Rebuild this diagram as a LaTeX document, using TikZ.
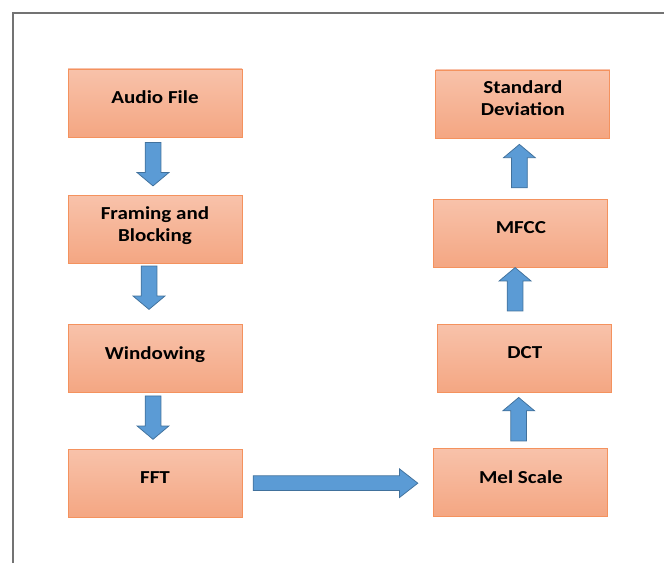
\documentclass[tikz,border=0pt]{standalone}
\usepackage{fontspec}
\usepackage{tikz}
\usetikzlibrary{positioning}
\usetikzlibrary{calc}
\usetikzlibrary{shapes.arrows}

\newfontfamily\boxfont[FakeStretch=1.15]{Carlito}

\definecolor{boxtop}{RGB}{248,194,170}
\definecolor{boxbottom}{RGB}{244,166,130}
\definecolor{boxline}{RGB}{244,146,94}
\definecolor{arrowfill}{RGB}{91,155,213}
\definecolor{arrowline}{RGB}{65,113,156}

\tikzset{
  stage/.style={rectangle, draw=boxline, line width=0.9pt, top color=boxtop, bottom color=boxbottom,
    minimum width=174pt, minimum height=68pt, inner sep=0pt, text depth=12pt, align=center,
    font=\boxfont\bfseries\fontsize{18.3}{22.4}\selectfont},
  blockarrow/.style={single arrow, draw=arrowline, fill=arrowfill, line width=0.75pt,
    inner xsep=0pt, inner ysep=7.5pt, minimum height=43.4pt, minimum width=31pt,
    single arrow head extend=8pt, single arrow tip angle=100, anchor=tail},
  frame/.style={draw=black!55, line width=2pt}
}

\begin{document}
\begin{tikzpicture}[x=1pt, y=1pt, node distance=58pt]
        \useasboundingbox (0,0) rectangle (664,563);
        \draw[frame] (12.5,0) |- (664,550);

        % left column
        \node[stage] (audio) at (155,460) {Audio File};
        \node[stage, below=of audio] (framing) {Framing and\\Blocking};
        \node[stage, below=60pt of framing] (windowing) {Windowing};
        \node[stage, below=56pt of windowing] (fft) {FFT};

        % right column
        \node[stage, right=191pt of fft, yshift=1pt] (mel) {Mel Scale};
        \node[stage, above=55pt of mel, xshift=4pt] (dct) {DCT};
        \node[stage, above=56pt of dct, xshift=-4pt] (mfcc) {MFCC};
        \node[stage, above=61pt of mfcc, xshift=2pt] (stddev) {Standard\\Deviation};

        \node[blockarrow, rotate=-90] (a1) at ($(audio.south)+(-2,-4.7)$) {};
        \node[blockarrow, rotate=-90] (a2) at ($(framing.south)+(-6,-1.3)$) {};
        \node[blockarrow, rotate=-90] (a3) at ($(windowing.south)+(-2,-2.3)$) {};
        \node[blockarrow, minimum height=164.7pt, minimum width=28pt, inner ysep=7pt,
          single arrow head extend=7pt, single arrow tip angle=76] (a4) at ($(fft.east)+(10.3,0.5)$) {};
        \node[blockarrow, rotate=90] (a5) at ($(mel.north)+(-2.2,7)$) {};
        \node[blockarrow, rotate=90] (a6) at ($(dct.north)+(-9.8,13)$) {};
        \node[blockarrow, rotate=90] (a7) at ($(mfcc.north)+(-1.5,11.3)$) {};
    \end{tikzpicture}
\end{document}
